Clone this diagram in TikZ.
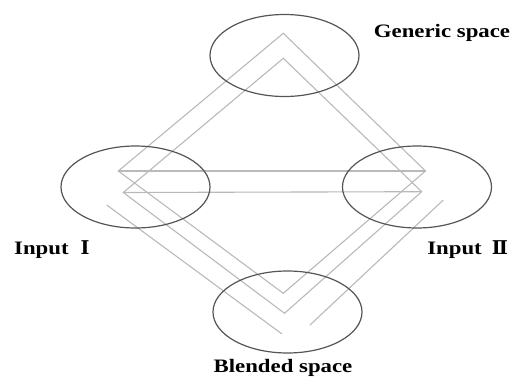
\documentclass[tikz,border=0pt]{standalone}
\usepackage{fontspec}
\setmainfont{Liberation Serif}
\newfontfamily\lblfont[FakeStretch=1.2]{Liberation Serif}
\newfontfamily\numfont{DejaVu Serif}
\usetikzlibrary{shapes.geometric}
\definecolor{ringcol}{RGB}{85,85,85}
\definecolor{linkcol}{RGB}{185,185,185}
\tikzset{
  space/.style={ellipse, draw=ringcol, line width=1.2pt, minimum width=149pt, minimum height=82pt, inner sep=0pt},
  link/.style={draw=linkcol, line width=1.1pt, line join=miter},
  lbl/.style={font=\lblfont\bfseries\fontsize{19}{21}\selectfont, inner sep=0pt}
}
\begin{document}
\begin{tikzpicture}[x=1pt,y=-1pt]
\useasboundingbox (0,0) rectangle (512,377);
% vertices of the connecting lines
\coordinate (A1) at (283.3,33.3);
\coordinate (R1) at (425.5,171);
\coordinate (B1) at (283.3,293.3);
\coordinate (L1) at (118.3,171);
\coordinate (A2) at (283.3,58.3);
\coordinate (R2) at (421.7,191.7);
\coordinate (B2) at (284.5,313.3);
\coordinate (L2) at (123.3,192.5);
\coordinate (P1) at (106.7,205);
\coordinate (P2) at (282,334);
\coordinate (P3) at (443.3,200);
\coordinate (P4) at (310,325);
% lines
\draw[link] (L1) -- (A1) -- (R1) -- (B1) -- cycle;
\draw[link] (L1) -- (R1);
\draw[link] (L2) -- (A2) -- (R2) -- (B2) -- cycle;
\draw[link] (L2) -- (R2);
\draw[link] (P1) -- (P2);
\draw[link] (P3) -- (P4);
% spaces
\node[space] (gen) at (284.5,55.5) {};
\node[space] (in1) at (135.5,187) {};
\node[space] (in2) at (417,187) {};
\node[space] (bld) at (287.5,312) {};
% labels
\node[lbl] (tgen) at (442,33) {Generic space};
\node[lbl, anchor=west] (tin1) at (14,250) {Input\hspace{12pt}{\numfont Ⅰ}};
\node[lbl, anchor=east] (tin2) at (508,250) {Input\hspace{10pt}{\numfont Ⅱ}};
\node[lbl] (tbld) at (283,368) {Blended space};
\end{tikzpicture}
\end{document}
